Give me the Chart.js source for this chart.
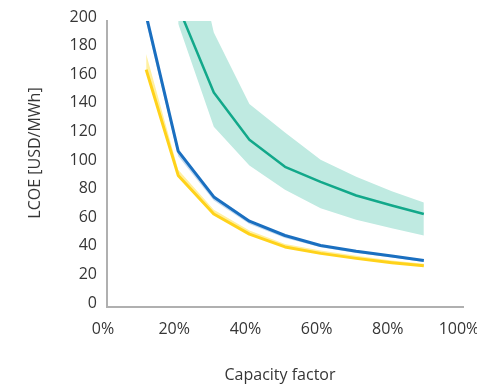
<!DOCTYPE html>
<html>
<head>
<meta charset="utf-8">
<script src="https://cdn.jsdelivr.net/npm/chart.js@4"></script>
<style>
  html, body { margin: 0; padding: 0; background: #ffffff; }
  #wrap { width: 477px; height: 385px; }
</style>
</head>
<body>
<div id="wrap"><canvas id="chart" width="477" height="385"></canvas></div>
<script>
// Capacity factor (%) of each computed point
const capacityFactor = [11, 20, 30, 40, 50, 60, 70, 80, 89];

// LCOE (USD/MWh), yellow technology: central line and upper edge of its range
const yellowMid  = [166, 92, 65, 51, 42, 37.5, 34, 31, 28.8];
const yellowHigh = [177, 96, 68, 53.5, 44, 39.5, 35.8, 32.6, 30.2];

// LCOE (USD/MWh), blue technology: central line and lower edge of its range
const blueMid = [204, 109, 77, 60, 50, 43, 39, 35.7, 32.5];
const blueLow = [199, 105.5, 74.5, 58, 48.3, 41.7, 37.8, 34.6, 31.5];

// LCOE (USD/MWh), green technology: central line with its high/low range
const greenMid  = [null, 210, 150, 117, 98, 87.5, 78, 71, 65];
const greenHigh = [null, 300, 192, 142, 122, 103, 91, 81, 73];
const greenLow  = [null, 198, 126, 99, 82, 69, 61, 55, 50];

// Axis ticks and titles
const yTicks = [0, 20, 40, 60, 80, 100, 120, 140, 160, 180, 200];
const xTicks = [0, 20, 40, 60, 80, 100];
const xTitle = 'Capacity factor';
const yTitle = 'LCOE [USD/MWh]';

const pts = vals => capacityFactor.map((x, i) => ({ x: x, y: vals[i] }));

const TEXT = '#363636';
const AXIS = '#b0b0b0';
const FONT = '"Open Sans", "DejaVu Sans", sans-serif';
const FSIZE = 16;

const band = (vals, color, fillTo, order) => ({
  data: pts(vals), borderWidth: 0, pointRadius: 0, backgroundColor: color,
  fill: fillTo, order: order, clip: 0, tension: 0
});
const line = (vals, color, width, order) => ({
  data: pts(vals), borderColor: color, borderWidth: width, pointRadius: 0,
  fill: false, order: order, clip: 0, tension: 0,
  borderJoinStyle: 'round', borderCapStyle: 'butt'
});

// Axis titles, placed against the left and bottom edges of the canvas
const axisTitles = {
  id: 'axisTitles',
  afterDraw(chart) {
    const ctx = chart.ctx;
    const area = chart.chartArea;
    ctx.save();
    ctx.fillStyle = TEXT;
    ctx.font = FSIZE + 'px ' + FONT;
    ctx.textAlign = 'center';
    ctx.textBaseline = 'middle';
    ctx.fillText(xTitle, area.left + (area.right - area.left) / 2 - 5, 375);
    ctx.translate(35, area.top + (area.bottom - area.top) / 2 - 11);
    ctx.rotate(-Math.PI / 2);
    ctx.fillText(yTitle, 0, 0);
    ctx.restore();
  }
};

new Chart(document.getElementById('chart'), {
  type: 'line',
  data: {
    datasets: [
      band(greenHigh, '#bfeae1', 1, 9),            // 0
      band(greenLow,  '#bfeae1', false, 9),        // 1
      line(greenMid,  '#12a88a', 2.5, 5),          // 2
      band(blueMid,   '#c4dbf0', 4, 7),            // 3
      band(blueLow,   'rgba(0,0,0,0)', false, 7),  // 4
      band(yellowHigh,'#fff0a0', 6, 7),            // 5
      band(yellowMid, 'rgba(0,0,0,0)', false, 7),  // 6
      line(blueMid,   '#1a6fc0', 3, 2),            // 7
      line(yellowMid, '#ffd21a', 3, 2)             // 8
    ]
  },
  plugins: [axisTitles],
  options: {
    responsive: false,
    animation: false,
    events: [],
    layout: { padding: { left: 0, right: 14, top: 21, bottom: 0 } },
    plugins: { legend: { display: false }, tooltip: { enabled: false } },
    scales: {
      x: {
        type: 'linear', min: 0, max: 100,
        afterBuildTicks: s => { s.ticks = xTicks.map(v => ({ value: v })); },
        afterFit: s => { s.height = 78; s.paddingLeft = 0; s.paddingRight = 0; },
        grid: { display: false, drawTicks: false },
        border: { display: true, color: AXIS, width: 2 },
        ticks: {
          color: TEXT, padding: 13, labelOffset: -4, maxRotation: 0,
          font: { family: FONT, size: FSIZE },
          callback: v => v + '%'
        }
      },
      y: {
        type: 'linear', min: 0, max: 200,
        afterBuildTicks: s => { s.ticks = yTicks.map(v => ({ value: v })); },
        afterFit: s => { s.width = 107; s.paddingTop = 0; s.paddingBottom = 0; },
        grid: { display: false, drawTicks: false },
        border: { display: true, color: AXIS, width: 2 },
        ticks: {
          color: TEXT, padding: 10, labelOffset: -4,
          font: { family: FONT, size: FSIZE }
        }
      }
    }
  }
});
</script>
</body>
</html>
